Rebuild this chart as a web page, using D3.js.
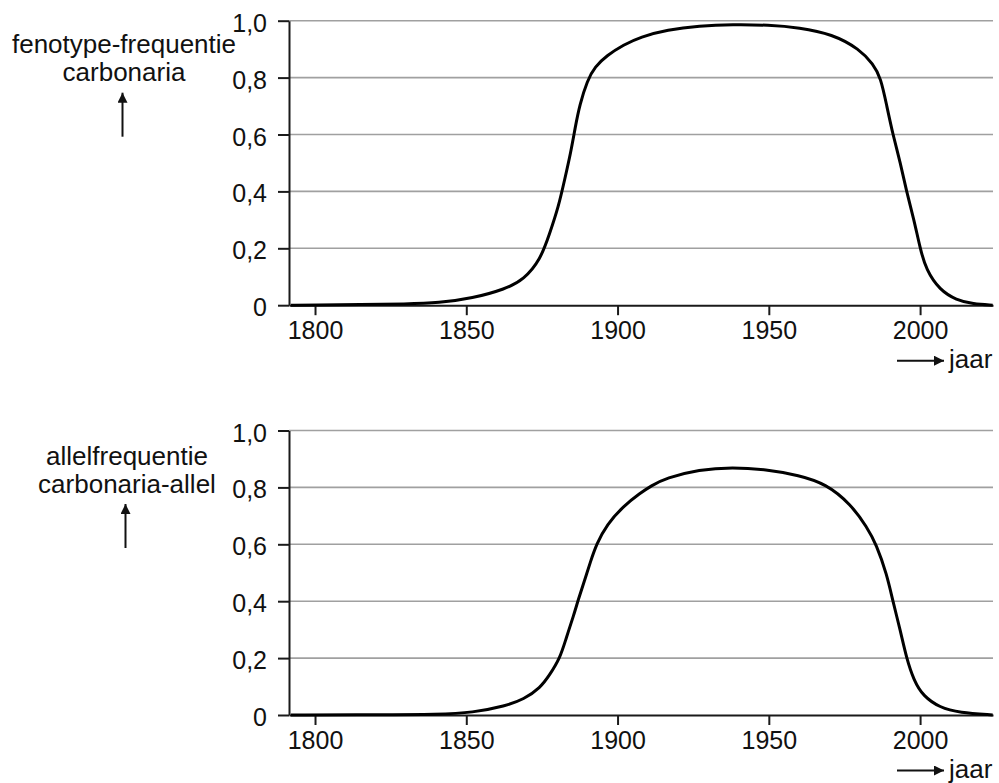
<!DOCTYPE html>
<html>
<head>
<meta charset="utf-8">
<script src="https://cdn.jsdelivr.net/npm/d3@7"></script>
<style>
  body { margin: 0; background: #fff; }
  svg { font-family: "Liberation Sans", Arial, sans-serif; }
</style>
</head>
<body>
<div class="chart"></div>
<script>
// x-axis ticks and y-axis ticks (shared by both panels)
const yearTicks = [1800, 1850, 1900, 1950, 2000];
const freqTicks = [0, 0.2, 0.4, 0.6, 0.8, 1.0];

// top panel: fenotype-frequentie carbonaria
const fenoYears = [1792, 1800, 1815, 1830, 1841, 1852, 1863, 1869, 1874.5, 1877.5, 1880.5, 1882.5, 1884.5, 1886, 1887.5, 1890, 1892.5, 1896.5, 1902, 1907.5, 1916.5, 1927, 1938, 1950, 1960, 1971, 1980, 1984.5, 1987, 1989, 1991, 1993.5, 1995.5, 1998, 2000, 2002, 2006.5, 2012, 2017.5, 2024];
const fenoFreq = [0, 0.001, 0.002, 0.004, 0.008, 0.024, 0.057, 0.09, 0.16, 0.25, 0.347, 0.441, 0.535, 0.625, 0.705, 0.79, 0.838, 0.878, 0.915, 0.943, 0.968, 0.982, 0.987, 0.985, 0.976, 0.953, 0.9, 0.847, 0.8, 0.7, 0.6, 0.5, 0.4, 0.3, 0.2, 0.124, 0.053, 0.018, 0.004, 0];

// bottom panel: allelfrequentie carbonaria-allel
const allelYears = [1792, 1820, 1841, 1852, 1863, 1869, 1874.5, 1877.5, 1881, 1883, 1885.5, 1887, 1889, 1891, 1893, 1896.5, 1902, 1907.5, 1911, 1916, 1927, 1938, 1949, 1960, 1969, 1977, 1982.5, 1985.5, 1989, 1991, 1993.5, 1995.5, 1998, 2001, 2006.5, 2013, 2024];
const allelFreq = [0, 0.001, 0.002, 0.008, 0.032, 0.055, 0.096, 0.14, 0.2, 0.27, 0.35, 0.405, 0.47, 0.537, 0.6, 0.67, 0.735, 0.78, 0.805, 0.833, 0.863, 0.871, 0.863, 0.843, 0.812, 0.742, 0.66, 0.6, 0.495, 0.4, 0.296, 0.2, 0.12, 0.067, 0.026, 0.008, 0];

const W = 999, H = 783;
const left = 289, right = 993;
const plotH = 284.5;

const svg = d3.select(".chart").append("svg")
    .attr("width", W)
    .attr("height", H);

const defs = svg.append("defs");
defs.append("marker")
    .attr("id", "head")
    .attr("viewBox", "0 0 10 10")
    .attr("refX", 10).attr("refY", 5)
    .attr("markerWidth", 13).attr("markerHeight", 10)
    .attr("markerUnits", "userSpaceOnUse")
    .attr("orient", "auto")
    .append("path").attr("d", "M0,0L10,5L0,10Z").attr("fill", "#111");

const x = d3.scaleLinear().domain([1791.4, 2024.1]).range([0, right - left]);

function drawPanel(top, years, freq, labelLines, labelX) {
    const y = d3.scaleLinear().domain([0, 1]).range([plotH, 0]);
    const g = svg.append("g").attr("transform", "translate(" + left + "," + top + ")");

    // grid lines
    g.append("g").selectAll("line").data(freqTicks.filter(d => d > 0)).join("line")
        .attr("x1", 0).attr("x2", x.range()[1])
        .attr("y1", d => y(d)).attr("y2", d => y(d))
        .attr("stroke", "#a0a0a0").attr("stroke-width", 1.6);

    const yAxis = d3.axisLeft(y).tickValues(freqTicks).tickSize(11).tickSizeOuter(0).tickPadding(11)
        .tickFormat(d => d === 0 ? "0" : d3.format(".1f")(d).replace(".", ","));
    const ya = g.append("g").call(yAxis);
    ya.selectAll("text").attr("dy", "0.42em");

    const xAxis = d3.axisBottom(x).tickValues(yearTicks).tickSize(10).tickSizeOuter(0).tickPadding(6)
        .tickFormat(d3.format("d"));
    const xa = g.append("g").attr("transform", "translate(0," + plotH + ")").call(xAxis);

    [ya, xa].forEach(a => {
        a.select(".domain").attr("stroke", "#1a1a1a").attr("stroke-width", 2);
        a.selectAll(".tick line").attr("stroke", "#1a1a1a").attr("stroke-width", 2);
        a.selectAll("text").attr("fill", "#111").style("font-size", "25px");
    });

    // curve
    const pts = years.map((yr, i) => [yr, freq[i]]);
    g.append("path").datum(pts)
        .attr("fill", "none").attr("stroke", "#000").attr("stroke-width", 3)
        .attr("d", d3.line().x(d => x(d[0])).y(d => y(d[1])).curve(d3.curveBasis));

    // y label with upward arrow
    const lbl = svg.append("text")
        .attr("text-anchor", "middle").attr("fill", "#111").style("font-size", "26px");
    labelLines.forEach((t, i) => {
        lbl.append("tspan").attr("x", labelX).attr("y", top + labelLines.baseline + i * 28.5).text(t);
    });
    const ax = labelX - 1.5;
    svg.append("line")
        .attr("x1", ax).attr("x2", ax)
        .attr("y1", top + labelLines.arrowBottom).attr("y2", top + labelLines.arrowBottom - 44)
        .attr("stroke", "#111").attr("stroke-width", 2).attr("marker-end", "url(#head)");

    // x label with right arrow
    const jy = top + plotH + 55.5;
    svg.append("line")
        .attr("x1", 897).attr("x2", 944).attr("y1", jy).attr("y2", jy)
        .attr("stroke", "#111").attr("stroke-width", 2).attr("marker-end", "url(#head)");
    svg.append("text").attr("x", 949).attr("y", jy + 7)
        .attr("fill", "#111").style("font-size", "26px").text("jaar");
}

const topLabel = ["fenotype-frequentie", "carbonaria"];
topLabel.baseline = 32; topLabel.arrowBottom = 116;
const botLabel = ["allelfrequentie", "carbonaria-allel"];
botLabel.baseline = 34; botLabel.arrowBottom = 117.5;

drawPanel(20.7, fenoYears, fenoFreq, topLabel, 124);
drawPanel(430.5, allelYears, allelFreq, botLabel, 127);
</script>
</body>
</html>
